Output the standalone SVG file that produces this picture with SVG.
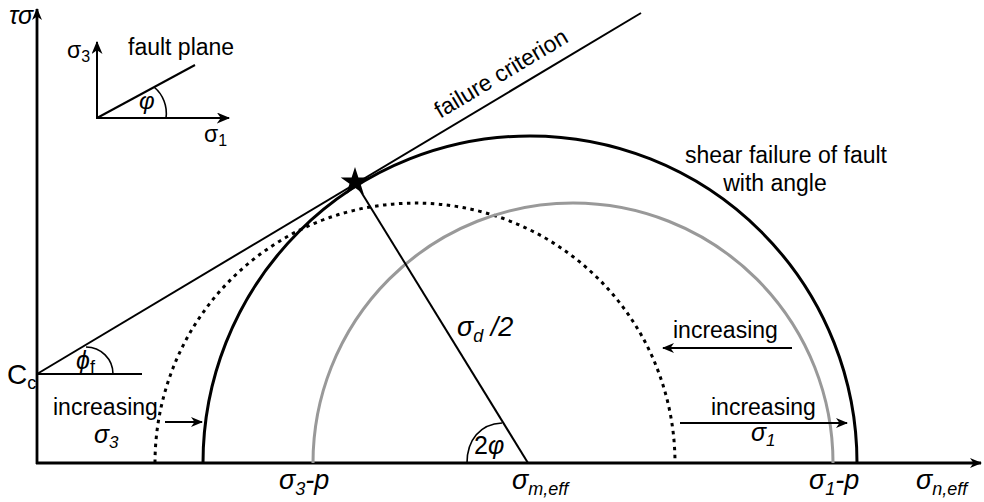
<svg xmlns="http://www.w3.org/2000/svg" width="984" height="502" viewBox="0 0 984 502">
<style>
text{font-family:"Liberation Sans",Arial,sans-serif;fill:#000}
.lbl{font-size:23px}
.it{font-style:italic}
.ax{stroke:#000;stroke-width:2.8;fill:none}
.ln{stroke:#000;stroke-width:2;fill:none}
.thin{stroke:#000;stroke-width:1.6;fill:none}
</style>
<defs>
<marker id="ah" viewBox="0 0 12 10" refX="11" refY="5" markerWidth="13" markerHeight="10" markerUnits="userSpaceOnUse" orient="auto">
<path d="M0,0 L12,5 L0,10 L3.5,5 z" fill="#000"/>
</marker>
<marker id="ahs" viewBox="0 0 12 10" refX="11" refY="5" markerWidth="14" markerHeight="11" markerUnits="userSpaceOnUse" orient="auto">
<path d="M0,0 L12,5 L0,10 L3.5,5 z" fill="#000"/>
</marker>
</defs>
<rect width="984" height="502" fill="#fff"/>

<g id="axes">
<line class="ax" x1="37" y1="464" x2="37" y2="9" marker-end="url(#ah)"/>
<line class="ax" x1="36" y1="463" x2="981" y2="463" marker-end="url(#ah)"/>
<text x="9" y="24" font-size="25" class="it">τσ</text>
<text x="916" y="489" font-size="27" class="it">σ<tspan font-size="18" dy="6">n,eff</tspan></text>
</g>

<g id="inset">
<line class="ln" x1="97" y1="119" x2="97" y2="42" marker-end="url(#ahs)"/>
<line class="ln" x1="96" y1="118" x2="229" y2="118" marker-end="url(#ahs)"/>
<line class="ln" x1="97" y1="118" x2="195" y2="65"/>
<path class="thin" d="M154,87 A34,34 0 0 1 166,118"/>
<text x="67" y="58" font-size="23">σ<tspan font-size="16" dy="4">3</tspan></text>
<text x="128" y="55" class="lbl">fault plane</text>
<text x="139" y="109" font-size="24" class="it">φ</text>
<text x="204" y="142" font-size="23">σ<tspan font-size="16" dy="4">1</tspan></text>
</g>

<g id="circles">
<path d="M155,463 A260,260 0 0 1 675,463" fill="none" stroke="#000" stroke-width="3" stroke-dasharray="3.5 4.5"/>
<path d="M313,463 A260,260 0 0 1 833,463" fill="none" stroke="#999" stroke-width="3"/>
<path d="M203,463 A327,327 0 0 1 857,463" fill="none" stroke="#000" stroke-width="3"/>
</g>

<g id="failure-criterion">
<line class="ln" x1="37" y1="374" x2="641" y2="13"/>
<line class="ln" x1="37" y1="374" x2="142" y2="374"/>
<path class="thin" d="M86,347 A27,27 0 0 1 113,374"/>
<text transform="translate(505,80) rotate(-30.9)" text-anchor="middle" class="lbl">failure criterion</text>
<text x="7" y="384" font-size="28">C<tspan font-size="18" dy="5">c</tspan></text>
<text x="76" y="369" font-size="25" class="it">ϕ<tspan font-size="18" font-style="normal" dy="4">f</tspan></text>
</g>

<g id="radius">
<line class="ln" x1="355" y1="182" x2="528" y2="463"/>
<path class="thin" d="M467,463 C467,440 480,424 502,423"/>
<text x="474" y="454" font-size="25">2<tspan class="it">φ</tspan></text>
<text x="457" y="336" font-size="27" class="it">σ<tspan font-size="18" dy="6">d</tspan><tspan dy="-6"> /2</tspan></text>
<path d="M355,167 L358.4,177.4 L369.3,177.4 L360.5,183.8 L363.8,194.2 L355,187.8 L346.2,194.2 L349.5,183.8 L340.7,177.4 L351.6,177.4 z" fill="#000"/>
</g>

<g id="shear-label">
<text x="786" y="163" text-anchor="middle" class="lbl">shear failure of fault</text>
<text x="775" y="191" text-anchor="middle" class="lbl">with angle</text>
</g>

<g id="arrows">
<line class="ln" x1="165" y1="422" x2="202" y2="422" marker-end="url(#ah)"/>
<line class="ln" x1="792" y1="348" x2="663" y2="348" marker-end="url(#ah)"/>
<line class="ln" x1="680" y1="423" x2="847" y2="423" marker-end="url(#ah)"/>
<text x="53" y="415" class="lbl">increasing</text>
<text x="94" y="443" font-size="25" class="it">σ<tspan font-size="17" dy="5">3</tspan></text>
<text x="673" y="338" class="lbl">increasing</text>
<text x="711" y="415" class="lbl">increasing</text>
<text x="751" y="441" font-size="25" class="it">σ<tspan font-size="17" dy="5">1</tspan></text>
</g>

<g id="axis-labels">
<text x="279" y="489" font-size="27" class="it">σ<tspan font-size="18" dy="6">3</tspan><tspan dy="-6">-p</tspan></text>
<text x="512" y="489" font-size="27" class="it">σ<tspan font-size="18" dy="6">m,eff</tspan></text>
<text x="809" y="489" font-size="27" class="it">σ<tspan font-size="18" dy="6">1</tspan><tspan dy="-6">-p</tspan></text>
</g>
</svg>
